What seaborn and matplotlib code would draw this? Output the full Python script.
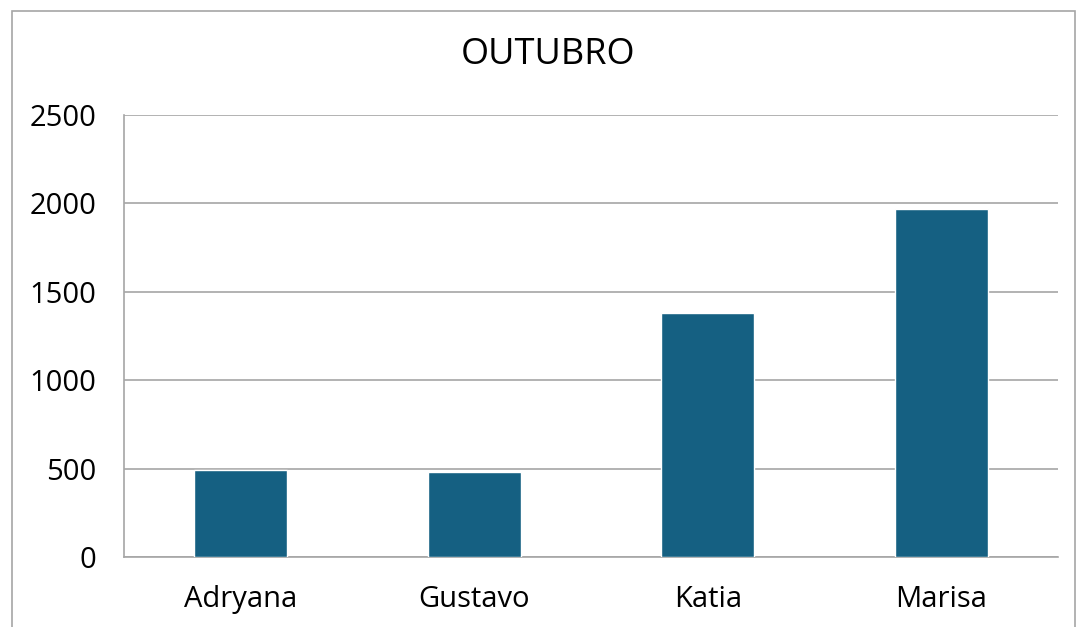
import matplotlib
matplotlib.use("Agg")
import matplotlib.pyplot as plt
import seaborn as sns
import pandas as pd
from matplotlib.patches import Rectangle

names = ["Adryana", "Gustavo", "Katia", "Marisa"]
values = [492, 480, 1381, 1966]
yticks = [0, 500, 1000, 1500, 2000, 2500]
title = "OUTUBRO"

df = pd.DataFrame({"nome": names, "valor": values})

sns.set_theme(style="white")
plt.rcParams["font.family"] = ["Open Sans", "DejaVu Sans"]

fig = plt.figure(figsize=(10.78, 6.27), dpi=100)
ax = fig.add_axes([124/1078, 1-557/627, (1058-124)/1078, (557-115)/627])

sns.barplot(data=df, x="nome", y="valor", color="#156082", width=0.4,
            saturation=1, ax=ax, zorder=3)

grid_c = "#a6a6a6"
ax.set_ylim(0, 2500)
ax.set_xlim(-0.5, len(names) - 0.5)
ax.set_yticks(yticks)
ax.set_yticklabels([str(v) for v in yticks], fontsize=21, color="black")
ax.yaxis.grid(True, color=grid_c, linewidth=1.2, zorder=0)
ax.set_axisbelow(True)
ax.tick_params(axis="y", length=7, width=1.2, color=grid_c, direction="out", pad=13)
ax.tick_params(axis="x", which="major", length=0, labelsize=21, labelcolor="black", pad=20)
ax.set_xticks([i - 0.5 for i in range(len(names) + 1)], minor=True)
ax.tick_params(axis="x", which="minor", length=7, width=1.2, color=grid_c, direction="out")
ax.set_xlabel("")
ax.set_ylabel("")
for s in ["top", "right"]:
    ax.spines[s].set_visible(False)
for s in ["left", "bottom"]:
    ax.spines[s].set_color(grid_c)
    ax.spines[s].set_linewidth(1.2)

fig.text(548/1078, 1-55/627, title, ha="center", va="center", fontsize=26,
         color="black", fontweight="medium")

fig.patches.append(Rectangle((12/1078, -0.1), (1075-12)/1078, 1.1 - 11/627,
                             transform=fig.transFigure, fill=False,
                             edgecolor="#a6a6a6", linewidth=1.2))

fig.savefig("out.png", dpi=100, facecolor="white")
